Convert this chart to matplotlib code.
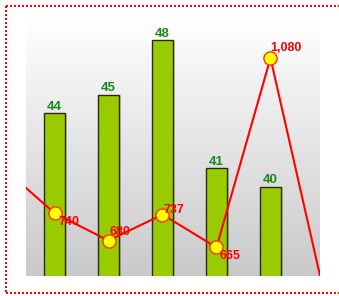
import numpy as np
import matplotlib
matplotlib.use('Agg')
import matplotlib.pyplot as plt
import matplotlib.transforms as mtransforms
from matplotlib.lines import Line2D

# bar series (left axis)
bar_x = [0, 1, 2, 3, 4]
bar_values = [44, 45, 48, 41, 40]

# line series (right axis), runs past the visible window on both sides
line_x = [-1, 0, 1, 2, 3, 4, 5]
line_values = [845, 740, 680, 737, 665, 1080, 560]
line_shown = [False, True, True, True, True, True, False]

# label offsets (points) for the line values
line_label_offsets = [None, (3, -6.5), (0.5, 6), (0.5, 3), (2, -6.5), (0, 7), None]

W, H = 339, 296
fig = plt.figure(figsize=(W / 100, H / 100), dpi=100)
ax = fig.add_axes([26 / W, (H - 275.7) / H, (320 - 26) / W, (275.7 - 17) / H])

# gradient background
grad = np.linspace(1.0, 0.0, 256).reshape(-1, 1)
top_c = np.array([1.0, 1.0, 1.0])
bot_c = np.array([0.79, 0.79, 0.79])
img = top_c * grad[..., None] + bot_c * (1 - grad[..., None])
ax.imshow(img, extent=[0, 1, 0, 1], transform=ax.transAxes, aspect='auto', zorder=0)

# bars with a soft shadow
shadow_tr = mtransforms.offset_copy(ax.transData, fig=fig, x=2, y=0, units='dots')
ax.bar(bar_x, [v - 30 for v in bar_values], bottom=30, width=0.38, color='#888888',
       alpha=0.35, linewidth=0, transform=shadow_tr, zorder=1)
ax.bar(bar_x, [v - 30 for v in bar_values], bottom=30, width=0.38, color='#99CC00',
       edgecolor='#2a2a10', linewidth=1.0, zorder=2)
for x, v in zip(bar_x, bar_values):
    ax.annotate(str(v), (x, v), xytext=(0, 0.5), textcoords='offset points',
                ha='center', va='bottom', color='#1A881A', fontsize=9.5,
                fontweight='bold', family='Liberation Sans', zorder=5)

ax.set_xlim(-0.528, 4.917)
ax.set_ylim(35.14, 49.27)
ax.set_axis_off()

# line on second axis
ax2 = ax.twinx()
ax2.set_ylim(603, 1170)
ax2.set_axis_off()
ax2.plot(line_x, line_values, color='#FF0000', linewidth=1.5, zorder=3)
mx = [x for x, s in zip(line_x, line_shown) if s]
my = [v for v, s in zip(line_values, line_shown) if s]
ax2.plot(mx, my, linestyle='none', marker='o', markersize=9.5,
         markerfacecolor='#FFFF00', markeredgecolor='#FF3300', markeredgewidth=1.0, zorder=4)
for x, v, s, off in zip(line_x, line_values, line_shown, line_label_offsets):
    if not s:
        continue
    ax2.annotate(f'{v:,}', (x, v), xytext=off, textcoords='offset points',
                 ha='left', va='center', color='#FF0000', fontsize=9,
                 fontweight='bold', family='Liberation Sans', zorder=5)


# dotted frame, in pixel coords from the top-left
def fpx(xs, ys):
    return Line2D([x / W for x in xs], [1 - y / H for y in ys],
                  transform=fig.transFigure, color='#FF0000', linewidth=1.44,
                  linestyle=(0, (1, 1)), dash_capstyle='butt')


fig.add_artist(fpx([6, 6], [6, 293]))
fig.add_artist(fpx([6, W], [6, 6]))
fig.add_artist(fpx([6, W], [293, 293]))

fig.savefig('out.png', dpi=100)
